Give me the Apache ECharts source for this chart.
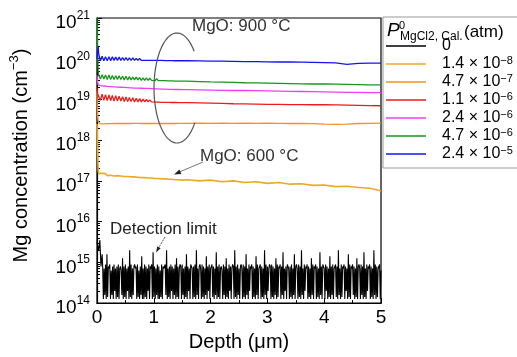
<!DOCTYPE html>
<html>
<head>
<meta charset="utf-8">
<script src="https://cdn.jsdelivr.net/npm/echarts@6/dist/echarts.min.js"></script>
<style>
  html, body { margin: 0; padding: 0; background: #fff; }
  #chart { width: 517px; height: 357px; }
</style>
</head>
<body>
<div id="chart"></div>
<script>
// depth grid (um) shared by the MgO profiles
const depth = [
  0, 0.01, 0.02, 0.03,
  0.06, 0.09, 0.12, 0.15, 0.18, 0.21, 0.24, 0.27, 0.30, 0.33,
  0.36, 0.39, 0.42, 0.45, 0.48, 0.51, 0.54, 0.57, 0.60, 0.63,
  0.66, 0.69, 0.72, 0.75, 0.78, 0.81, 0.84, 0.87, 0.90, 0.93,
  0.96, 0.99, 1.02, 1.05, 1.08, 1.11, 1.14, 1.17, 1.20, 1.23,
  1.26, 1.29, 1.32, 1.35, 1.38, 1.41, 1.44, 1.47, 1.50,
  1.6, 1.8, 2.0, 2.2, 2.4, 2.6, 2.8, 3.0, 3.2, 3.4, 3.6, 3.8, 4.0, 4.2, 4.4, 4.6, 4.8, 5.0
];

// log10 of Mg concentration (cm^-3)
const mg24e5 = [
  20.0, 20.2, 20.3, 20.12,
  19.95, 20.06, 19.95, 20.05, 19.95, 20.05, 19.95, 20.05, 19.96, 20.04,
  19.96, 20.04, 19.96, 20.03, 19.96, 20.03, 19.96, 20.02, 19.96, 20.02,
  19.96, 20.01, 19.96, 20.01, 19.96, 20.0, 19.96, 20.0, 19.96, 19.99,
  19.96, 19.99, 19.96, 19.98, 19.96, 19.98, 19.96, 19.97, 19.955, 19.97,
  19.955, 19.96, 19.955, 19.96, 19.95, 19.96, 19.95, 19.955, 19.95,
  19.95, 19.945, 19.94, 19.94, 19.935, 19.93, 19.93, 19.925, 19.92, 19.92, 19.915, 19.91, 19.905, 19.90, 19.86, 19.885, 19.89, 19.89
];
const mg47e6 = [
  21.0, 20.2, 19.7, 19.6,
  19.50, 19.61, 19.50, 19.60, 19.49, 19.60, 19.49, 19.59, 19.49, 19.58,
  19.49, 19.58, 19.49, 19.57, 19.48, 19.57, 19.48, 19.56, 19.48, 19.55,
  19.48, 19.55, 19.48, 19.54, 19.47, 19.53, 19.47, 19.53, 19.47, 19.52,
  19.47, 19.51, 19.46, 19.51, 19.46, 19.50, 19.46, 19.49, 19.46, 19.49,
  19.455, 19.48, 19.455, 19.475, 19.45, 19.47, 19.45, 19.465, 19.45,
  19.45, 19.44, 19.43, 19.425, 19.42, 19.41, 19.405, 19.40, 19.395, 19.39, 19.385, 19.38, 19.38, 19.375, 19.37, 19.365, 19.36, 19.36
];
const mg24e6 = [
  19.6, 19.42, 19.36, 19.35,
  19.34, 19.345, 19.33, 19.335, 19.32, 19.325, 19.315, 19.32, 19.31, 19.315,
  19.305, 19.31, 19.30, 19.305, 19.295, 19.30, 19.29, 19.295, 19.285, 19.29,
  19.28, 19.285, 19.28, 19.28, 19.275, 19.28, 19.27, 19.275, 19.27, 19.27,
  19.265, 19.27, 19.26, 19.265, 19.26, 19.26, 19.255, 19.26, 19.255, 19.255,
  19.25, 19.255, 19.25, 19.25, 19.245, 19.25, 19.245, 19.245, 19.24,
  19.24, 19.235, 19.23, 19.225, 19.22, 19.22, 19.215, 19.21, 19.205, 19.20, 19.195, 19.19, 19.185, 19.18, 19.175, 19.175, 19.17, 19.17
];
const mg11e6 = [
  19.3, 19.15, 19.1, 19.12,
  18.98, 19.13, 18.98, 19.12, 18.97, 19.11, 18.97, 19.10, 18.96, 19.09,
  18.96, 19.08, 18.96, 19.07, 18.95, 19.06, 18.95, 19.05, 18.95, 19.04,
  18.94, 19.03, 18.94, 19.02, 18.94, 19.01, 18.94, 19.00, 18.94, 18.99,
  18.94, 18.98, 18.935, 18.97, 18.935, 18.96, 18.93, 18.955, 18.93, 18.95,
  18.93, 18.945, 18.925, 18.94, 18.925, 18.935, 18.92, 18.93, 18.92,
  18.92, 18.915, 18.91, 18.905, 18.895, 18.89, 18.885, 18.88, 18.88, 18.875, 18.875, 18.87, 18.87, 18.865, 18.86, 18.855, 18.85, 18.845
];
const mg47e7 = [
  19.2, 18.6, 18.45, 18.43,
  18.40, 18.44, 18.40, 18.44, 18.405, 18.435, 18.405, 18.435, 18.41, 18.43,
  18.41, 18.43, 18.41, 18.43, 18.41, 18.425, 18.41, 18.425, 18.41, 18.425,
  18.415, 18.425, 18.415, 18.42, 18.41, 18.425, 18.415, 18.42, 18.41, 18.42,
  18.415, 18.42, 18.41, 18.42, 18.415, 18.42, 18.41, 18.42, 18.415, 18.42,
  18.41, 18.42, 18.415, 18.42, 18.41, 18.42, 18.415, 18.42, 18.415,
  18.415, 18.42, 18.415, 18.42, 18.415, 18.42, 18.415, 18.42, 18.415, 18.41, 18.41, 18.405, 18.395, 18.39, 18.395, 18.41, 18.415, 18.42
];
const mg14e8 = [
  18.4, 17.8, 17.25, 17.18,
  17.14, 17.19, 17.15, 17.18, 17.13, 17.17, 17.14, 17.17, 17.12, 17.16,
  17.13, 17.16, 17.12, 17.15, 17.11, 17.14, 17.11, 17.14, 17.10, 17.13,
  17.10, 17.12, 17.09, 17.12, 17.08, 17.11, 17.08, 17.11, 17.07, 17.10,
  17.07, 17.10, 17.06, 17.09, 17.06, 17.08, 17.05, 17.08, 17.05, 17.07,
  17.04, 17.07, 17.04, 17.06, 17.03, 17.06, 17.03, 17.05, 17.02,
  17.03, 17.00, 17.02, 16.98, 17.00, 16.96, 16.98, 16.94, 16.96, 16.92, 16.93, 16.89, 16.90, 16.86, 16.87, 16.84, 16.82, 16.76
];

// P = 0 reference sample: surface points, then the noisy detection-limit signal
const blankSurfDepth = [0, 0.03, 0.05, 0.07, 0.09];
const blankSurf = [15.5, 15.3, 15.55, 14.9, 15.2];
const blankStart = 0.1, blankStep = 0.0125;
const blank = [
  14.9, 14.1, 14.85, 14.2, 14.95, 14.1, 15.2, 14.15, 14.9, 14.85, 14.95, 14.1, 14.8, 14.2, 14.9, 14.1, 14.95, 14.3, 14.85, 14.1,
  14.9, 14.15, 14.95, 14.1, 14.85, 14.9, 14.8, 14.2, 15.1, 14.1, 14.9, 14.15, 14.95, 14.1, 14.85, 14.3, 14.9, 14.1, 15.3, 14.15,
  14.95, 14.1, 14.85, 14.2, 14.9, 14.95, 14.85, 14.9, 14.1, 14.95, 14.15, 14.8, 14.1, 14.9, 14.2, 15.15, 14.1, 14.85, 14.1, 14.95,
  14.15, 14.9, 14.1, 14.85, 14.3, 14.95, 14.1, 14.9, 14.85, 14.95, 14.1, 15.25, 14.15, 14.9, 14.1, 14.85, 14.2, 14.95, 14.1, 14.9,
  14.1, 14.8, 14.15, 14.95, 14.1, 14.9, 14.85, 14.9, 14.95, 14.2, 15.3, 14.1, 14.85, 14.15, 14.9, 14.1, 14.95, 14.3, 14.9, 14.1,
  14.85, 14.2, 14.95, 14.1, 15.1, 14.15, 14.9, 14.1, 14.85, 14.95, 14.9, 14.1, 14.95, 14.2, 14.85, 14.1, 14.9, 14.15, 15.2, 14.1,
  14.9, 14.3, 14.85, 14.1, 14.95, 14.9, 14.85, 14.1, 14.9, 14.15, 14.95, 14.1, 15.3, 14.2, 14.85, 14.1, 14.9, 14.95, 14.85, 14.1,
  14.95, 14.15, 14.9, 14.1, 14.85, 14.2, 15.15, 14.1, 14.9, 14.3, 14.95, 14.1, 14.85, 14.9, 14.95, 14.15, 14.9, 14.1, 14.85, 14.2,
  15.25, 14.1, 14.9, 14.15, 14.95, 14.1, 14.85, 14.9, 14.8, 14.1, 14.95, 14.2, 14.9, 14.1, 15.1, 14.15, 14.85, 14.1, 14.95, 14.3,
  14.9, 14.1, 14.85, 14.95, 14.9, 14.1, 15.3, 14.15, 14.9, 14.1, 14.95, 14.2, 14.85, 14.1, 14.9, 14.95, 14.85, 14.1, 14.95, 14.15,
  14.9, 14.1, 15.2, 14.2, 14.85, 14.1, 14.95, 14.3, 14.9, 14.85, 14.95, 14.1, 14.9, 14.15, 14.85, 14.1, 15.15, 14.2, 14.95, 14.1,
  14.85, 14.9, 14.95, 14.1, 14.9, 14.15, 14.85, 14.1, 15.3, 14.2, 14.95, 14.1, 14.9, 14.3, 14.85, 14.95, 14.9, 14.1, 14.95, 14.15,
  14.9, 14.1, 14.85, 14.2, 15.1, 14.1, 14.95, 14.15, 14.9, 14.85, 14.95, 14.1, 14.9, 14.2, 15.25, 14.1, 14.85, 14.3, 14.9, 14.1,
  14.95, 14.9, 14.85, 14.1, 14.9, 14.15, 14.95, 14.1, 14.85, 14.2, 15.2, 14.1, 14.9, 14.95, 14.85, 14.1, 14.95, 14.15, 14.9, 14.1,
  15.3, 14.2, 14.85, 14.1, 14.95, 14.3, 14.9, 14.85, 14.95, 14.1, 14.9, 14.15, 14.85, 14.1, 15.1, 14.2, 14.95, 14.1, 14.9, 14.85,
  14.95, 14.1, 14.9, 14.15, 14.85, 14.1, 15.25, 14.2, 14.9, 14.1, 14.95, 14.9, 14.85, 14.1, 14.95, 14.3, 14.9, 14.1, 14.85, 14.15,
  15.15, 14.1, 14.9, 14.2, 14.95, 14.1, 14.85, 14.9, 14.95, 14.15, 14.9, 14.1, 15.3, 14.2, 14.85, 14.1, 14.95, 14.15, 14.9, 14.85,
  14.95, 14.1, 14.9, 14.3, 14.85, 14.1, 15.2, 14.15, 14.95, 14.1, 14.9, 14.85, 14.95, 14.2, 14.9, 14.1, 14.85, 14.15, 15.1, 14.1,
  14.9, 14.95, 14.85, 14.1, 14.95, 14.2, 14.9, 14.1, 15.25, 14.15, 14.85, 14.1, 14.95, 14.3, 14.9, 14.85, 14.95, 14.1, 14.9, 14.15,
  14.85, 14.1, 15.3, 14.2, 14.95, 14.1, 14.9, 14.15, 14.85, 14.9, 14.95, 14.1, 14.8
];

const pressures = ['0', '1.4e-8', '4.7e-7', '1.1e-6', '2.4e-6', '4.7e-6', '2.4e-5'];
const colors = ['#000000', '#ecaa24', '#f7901e', '#ea1c1c', '#f23ef2', '#17961c', '#1414f0'];

// log-spaced minor ticks of the concentration axis (2..9 in every decade)
const decades = [14, 15, 16, 17, 18, 19, 20];
const minorSteps = [2, 3, 4, 5, 6, 7, 8, 9];
const minorTickValues = [];
decades.forEach(d => minorSteps.forEach(k => minorTickValues.push(k * Math.pow(10, d))));

const FONT = '"Liberation Sans", Arial, sans-serif';

const toPairs = (xs, logs) => xs.map((x, i) => [x, Math.pow(10, logs[i])]);

const blankData = toPairs(blankSurfDepth, blankSurf).concat(
  blank.map((v, i) => [blankStart + i * blankStep, Math.pow(10, v)])
);
const profiles = [blankData, toPairs(depth, mg14e8), toPairs(depth, mg47e7), toPairs(depth, mg11e6),
  toPairs(depth, mg24e6), toPairs(depth, mg47e6), toPairs(depth, mg24e5)];
const lineWidths = [1.1, 1.6, 1.3, 1.3, 1.3, 1.3, 1.3];

function pressureLabel(name) {
  if (name === '0') return '0';
  const [m, e] = name.split('e');
  return m + ' \u00d7 10{s|' + e.replace('-', '\u2212') + '}';
}

// open ellipse used to group the 900 C curves (annotation only)
function ellipseArc(cx, cy, rx, ry, a0, a1, n) {
  const pts = [];
  for (let i = 0; i <= n; i++) {
    const a = (a0 + (a1 - a0) * i / n) * Math.PI / 180;
    pts.push([cx + rx * Math.cos(a), cy + ry * Math.sin(a)]);
  }
  return pts;
}

function label(x, y, text, size, extra) {
  return {
    type: 'text', z: 10, x: x, y: y,
    style: Object.assign({ text: text, fontSize: size, fontFamily: FONT, fill: '#000', verticalAlign: 'middle' }, extra || {})
  };
}

const chart = echarts.init(document.getElementById('chart'));

const option = {
  animation: false,
  grid: { left: 91, top: 18, right: 136, bottom: 51, show: true, borderColor: '#000', borderWidth: 1.2 },
  xAxis: {
    type: 'value', min: 0, max: 5, interval: 1,
    name: 'Depth (\u03bcm)', nameLocation: 'middle', nameGap: 28,
    nameTextStyle: { fontSize: 20, color: '#000', fontFamily: FONT },
    axisLine: { lineStyle: { color: '#000', width: 1.2 } },
    axisTick: { inside: true, length: 5, lineStyle: { color: '#000' } },
    minorTick: { show: true, splitNumber: 2, length: 3, lineStyle: { color: '#000' } },
    splitLine: { show: false },
    axisLabel: { fontSize: 19, color: '#000', fontFamily: FONT, margin: 5 }
  },
  yAxis: [{
    type: 'log', logBase: 10, min: 1e14, max: 1e21,
    name: 'Mg concentration (cm{s|\u22123})', nameLocation: 'middle', nameGap: 62,
    nameTextStyle: {
      fontSize: 20, color: '#000', fontFamily: FONT, lineHeight: 27, padding: [0, 0, 0, 10],
      rich: { s: { fontSize: 13, fontFamily: FONT, color: '#000', lineHeight: 13, verticalAlign: 'top' } }
    },
    axisLine: { lineStyle: { color: '#000', width: 1.2 } },
    axisTick: { inside: true, length: 5, lineStyle: { color: '#000' } },
    splitLine: { show: false },
    axisLabel: {
      margin: 7, padding: [10, 0, 0, 0],
      formatter: v => '{b|10}{s|' + Math.round(Math.log10(v)) + '}',
      rich: {
        b: { fontSize: 19, fontFamily: FONT, color: '#000', lineHeight: 27 },
        s: { fontSize: 12, fontFamily: FONT, color: '#000', lineHeight: 12, verticalAlign: 'top' }
      }
    }
  }, {
    // overlay axis that only carries the minor ticks
    type: 'log', logBase: 10, min: 1e14, max: 1e21, position: 'left',
    axisLine: { show: false },
    axisLabel: { show: false },
    splitLine: { show: false },
    axisTick: { inside: true, length: 3, customValues: minorTickValues, lineStyle: { color: '#000' } }
  }],
  legend: {
    orient: 'vertical', left: 386, top: 37, padding: 0,
    icon: 'rect', itemWidth: 40, itemHeight: 1.5, itemGap: 0, z: 5,
    data: pressures,
    formatter: pressureLabel,
    textStyle: {
      fontSize: 16, fontFamily: FONT, color: '#000', lineHeight: 18, padding: [0, 0, 0, 11],
      rich: { s: { fontSize: 11, fontFamily: FONT, color: '#000', lineHeight: 11, verticalAlign: 'top' } }
    }
  },
  series: pressures.map((p, i) => ({
    name: p,
    type: 'line',
    yAxisIndex: 0,
    data: profiles[i],
    symbol: 'none',
    color: colors[i],
    lineStyle: { width: lineWidths[i], color: colors[i] },
    z: 2 + i
  })),
  graphic: [
    { type: 'rect', z: 1, shape: { x: 383, y: 17, width: 150, height: 151 },
      style: { fill: '#fff', stroke: '#999', lineWidth: 1 } },
    // legend title: P^0 with subscript "MgCl2, Cal." stacked under the superscript
    label(387, 31, 'P', 19, { fontStyle: 'italic' }),
    label(399, 25.5, '0', 11),
    label(400, 36.5, 'MgCl2, Cal.', 12),
    label(464, 32, '(atm)', 17),
    label(192, 26, 'MgO: 900 \u00b0C', 17, { fill: '#333' }),
    { type: 'polyline', z: 10, shape: { points: ellipseArc(177, 88, 23, 55, -42, -321, 80) },
      style: { stroke: '#555', lineWidth: 1.2, fill: null } },
    label(200, 156, 'MgO: 600 \u00b0C', 17, { fill: '#333' }),
    { type: 'line', z: 10, shape: { x1: 203, y1: 162, x2: 180, y2: 171.7 },
      style: { stroke: '#777', lineWidth: 1 } },
    { type: 'polygon', z: 10, shape: { points: [[174, 174.5], [181.4, 174.0], [179.4, 169.4]] },
      style: { fill: '#222' } },
    label(110, 229, 'Detection limit', 17, { fill: '#222' }),
    { type: 'line', z: 10, shape: { x1: 165, y1: 237, x2: 159, y2: 247.3 },
      style: { stroke: '#555', lineWidth: 1, lineDash: [2, 1] } },
    { type: 'polygon', z: 10, shape: { points: [[156, 252.5], [160.7, 248.3], [157.3, 246.3]] },
      style: { fill: '#222' } }
  ]
};

chart.setOption(option);
</script>
</body>
</html>
